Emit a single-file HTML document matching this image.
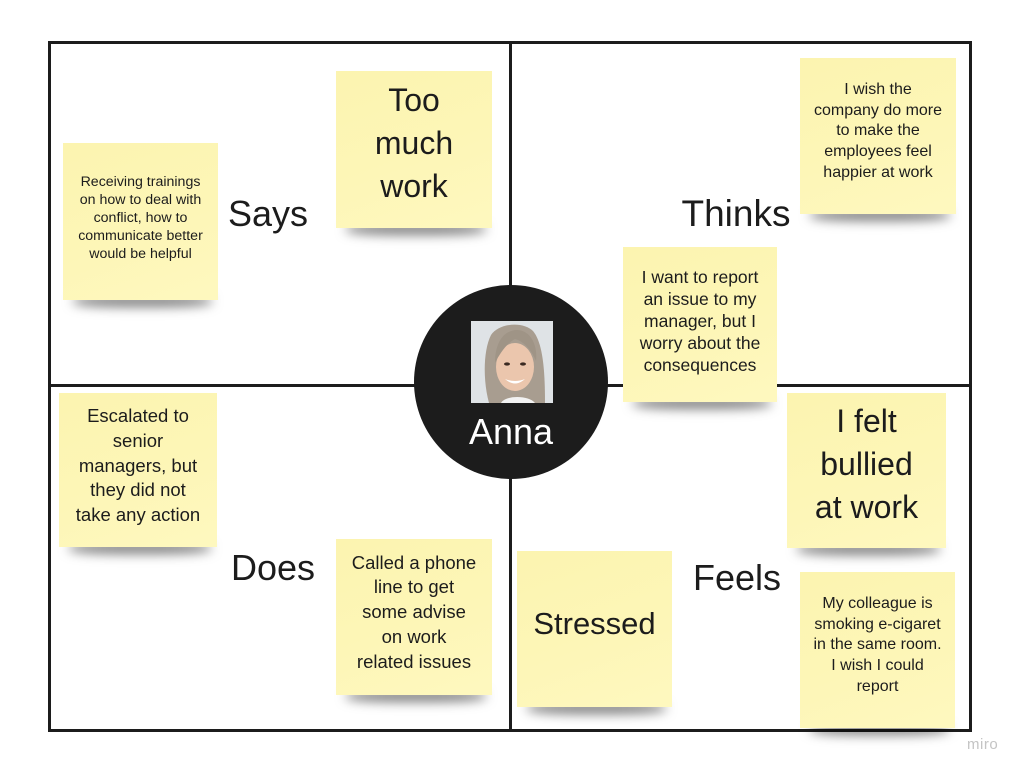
<!DOCTYPE html>
<html><head><meta charset="utf-8">
<style>
html,body{margin:0;padding:0;background:#fff;}
body{width:1024px;height:774px;position:relative;overflow:hidden;font-family:"Liberation Sans",Arial,sans-serif;color:#1c1c1c;}
.frame{position:absolute;left:48px;top:41px;width:918px;height:685px;border:3px solid #1c1c1c;}
.vl{position:absolute;left:509px;top:41px;width:3px;height:691px;background:#1c1c1c;}
.hl{position:absolute;left:48px;top:384px;width:924px;height:3px;background:#1c1c1c;}
.sh{position:absolute;height:12px;box-shadow:0 8px 11px rgba(0,0,0,0.5);background:#888;border-radius:40%;}
.st{position:absolute;background:linear-gradient(160deg,#fcf4b0 0%,#fdf6b7 55%,#fef8bf 100%);}
.st .t{position:absolute;left:0;right:0;text-align:center;}
.lbl{position:absolute;width:200px;text-align:center;font-size:36px;line-height:36px;white-space:nowrap;}
.circle{position:absolute;left:414px;top:285px;width:194px;height:194px;border-radius:50%;background:#1c1c1c;}
.miro{position:absolute;left:967px;top:736px;font-size:15px;color:#c4c4c4;letter-spacing:0.5px;}
</style></head><body>
<div class="frame"></div>
<div class="vl"></div>
<div class="hl"></div>

<!-- shadows -->
<div class="sh" style="left:73px;top:287px;width:139px;"></div>
<div class="sh" style="left:346px;top:215px;width:140px;"></div>
<div class="sh" style="left:810px;top:201px;width:140px;"></div>
<div class="sh" style="left:633px;top:389px;width:138px;"></div>
<div class="sh" style="left:69px;top:534px;width:142px;"></div>
<div class="sh" style="left:346px;top:682px;width:140px;"></div>
<div class="sh" style="left:797px;top:535px;width:143px;"></div>
<div class="sh" style="left:527px;top:694px;width:139px;"></div>
<div class="sh" style="left:810px;top:715px;width:139px;"></div>

<!-- Says -->
<div class="st" style="left:63px;top:143px;width:155px;height:157px;">
  <div class="t" style="top:30px;font-size:14.2px;line-height:18.1px;">Receiving trainings<br>on how to deal with<br>conflict, how to<br>communicate better<br>would be helpful</div>
</div>
<div class="st" style="left:336px;top:71px;width:156px;height:157px;">
  <div class="t" style="top:8px;font-size:32px;line-height:43px;">Too<br>much<br>work</div>
</div>
<div class="lbl" style="left:168px;top:196px;">Says</div>

<!-- Thinks -->
<div class="st" style="left:800px;top:58px;width:156px;height:156px;">
  <div class="t" style="top:22px;font-size:16px;line-height:20.7px;">I wish the<br>company do more<br>to make the<br>employees feel<br>happier at work</div>
</div>
<div class="lbl" style="left:636px;top:196px;font-size:37px;">Thinks</div>
<div class="st" style="left:623px;top:247px;width:154px;height:155px;">
  <div class="t" style="top:18.5px;font-size:17.5px;line-height:22.2px;">I want to report<br>an issue to my<br>manager, but I<br>worry about the<br>consequences</div>
</div>

<!-- Does -->
<div class="st" style="left:59px;top:393px;width:158px;height:154px;">
  <div class="t" style="top:11px;font-size:18.5px;line-height:24.8px;">Escalated to<br>senior<br>managers, but<br>they did not<br>take any action</div>
</div>
<div class="lbl" style="left:173px;top:550px;">Does</div>
<div class="st" style="left:336px;top:539px;width:156px;height:156px;">
  <div class="t" style="top:11.5px;font-size:18.5px;line-height:24.9px;">Called a phone<br>line to get<br>some advise<br>on work<br>related issues</div>
</div>

<!-- Feels -->
<div class="st" style="left:787px;top:393px;width:159px;height:155px;">
  <div class="t" style="top:7px;font-size:32px;line-height:42.8px;">I felt<br>bullied<br>at work</div>
</div>
<div class="lbl" style="left:637px;top:560px;">Feels</div>
<div class="st" style="left:517px;top:551px;width:155px;height:156px;">
  <div class="t" style="top:53px;font-size:31px;line-height:40px;">Stressed</div>
</div>
<div class="st" style="left:800px;top:572px;width:155px;height:156px;">
  <div class="t" style="top:22px;font-size:16px;line-height:20.7px;">My colleague is<br>smoking e-cigaret<br>in the same room.<br>I wish I could<br>report</div>
</div>

<!-- Center -->
<div class="circle"></div>
<svg style="position:absolute;left:471px;top:321px;" width="82" height="82" viewBox="0 0 82 82">
  <rect width="82" height="82" fill="#dfe3e6"/>
  <path d="M18 82 C12 60 12 30 20 14 C28 2 52 0 62 10 C72 22 74 50 74 82 Z" fill="#a89d90"/>
  <ellipse cx="44" cy="46" rx="19" ry="24" fill="#ebc6ad"/>
  <path d="M24 42 C24 20 34 9 46 9 C58 9 67 22 65 40 C60 28 52 20 44 18 C36 22 29 32 24 42 Z" fill="#9f9486"/>
  <path d="M34 58 Q44 67 54 58 Q44 62 34 58 Z" fill="#fff"/>
  <ellipse cx="36" cy="43" rx="3" ry="1.6" fill="#3a2a22"/>
  <ellipse cx="52" cy="43" rx="3" ry="1.6" fill="#3a2a22"/>
  <path d="M30 82 C34 74 58 74 64 82 Z" fill="#f2f2f2"/>
</svg>
<div class="lbl" style="left:411px;top:414px;color:#fff;">Anna</div>

<div class="miro">miro</div>
</body></html>
